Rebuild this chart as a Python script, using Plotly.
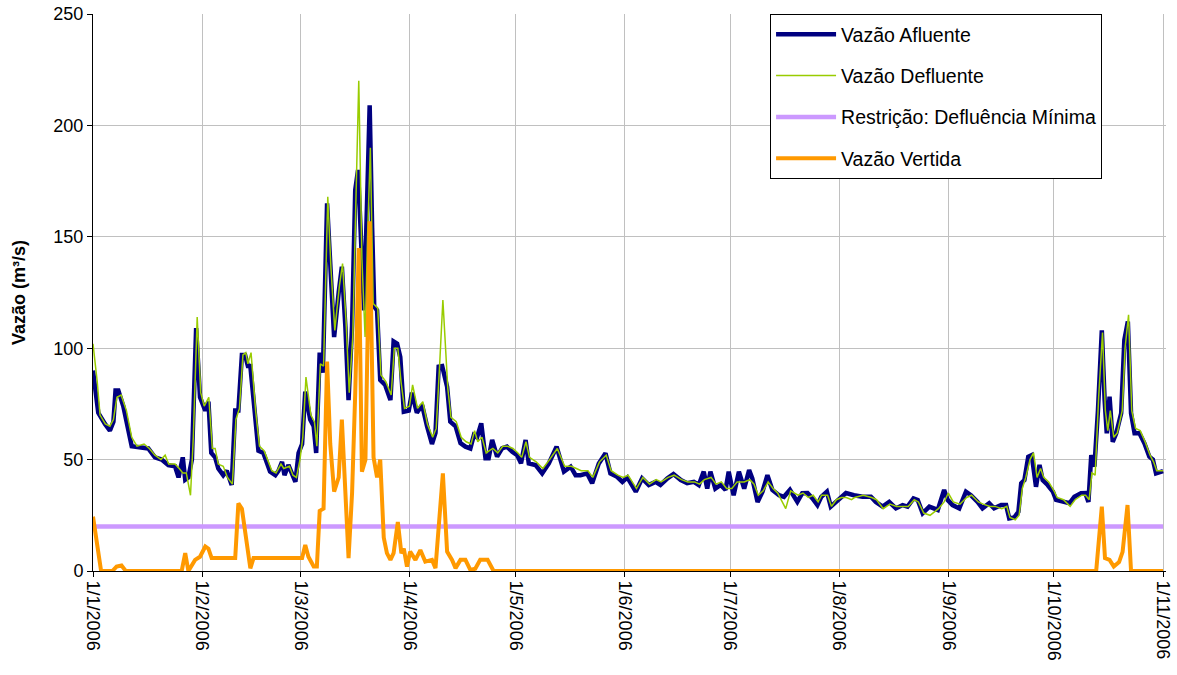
import pandas as pd
import plotly.graph_objects as go

BASE = "2006-01-01"

# ---- Vazão Afluente (day offset from 1/1/2006, m³/s)
afl_days = [0, 1.5, 3.4, 4.8, 5.8, 6.4, 7.2, 8.6, 11, 14.3, 15.7, 17.6, 19.5, 21.4, 23.3, 24.3, 25.5, 26.2,
            27.1, 28.1, 29.3, 30.4, 31.9, 32.8, 33.6, 34.7, 35.6, 37, 38, 39.4, 40.4, 41.3, 42.3, 43.2, 44,
            44.7, 46, 47, 48.4, 49.4, 50.3, 51.8, 52.7, 53.7, 54.4, 55.5, 56.5, 57.5, 58.4, 59.4, 60.3, 61.7,
            62.7, 63.4, 64.4, 65.3, 66.5, 67.4, 68.5, 69.8, 70.7, 71.7, 72.6, 73.6, 74.5, 75.3, 76.4, 77,
            77.8, 78.6, 79.3, 79.9, 80.7, 81.6, 83, 84.5, 85.4, 86.4, 87.3, 88.3, 89.7, 90.6, 92, 93.5, 94.9,
            96.3, 97.3, 98.2, 99.2, 100.6, 101.5, 103, 104.4, 105.8, 107.2, 108.2, 109.1, 110.3, 111.5, 112.4,
            113.4, 114.8, 116.2, 117.6, 119.1, 120.5, 121.6, 122.9, 123.8, 125.7, 127.6, 129.5, 131.7, 133.8,
            135.7, 137.1, 138.5, 140.4, 141.8, 143.7, 145.6, 147, 148.9, 150.4, 151.8, 154.2, 156, 157.9,
            159.8, 161.2, 163.2, 164.9, 167, 168.8, 170.7, 172.1, 173.5, 174.5, 175.4, 176.8, 178.3, 179.7,
            180.6, 182, 183.5, 185, 186.4, 187.3, 188.8, 190.2, 191.6, 193, 194.9, 196.3, 198, 200.1, 201.5,
            203, 204.4, 205.8, 206.9, 208.5, 209.6, 211, 212.4, 213.9, 216.2, 218.6, 221, 222.4, 224.3, 226.2,
            228.1, 230, 231.4, 233.1, 234.3, 235.7, 237.6, 240, 241.8, 242.8, 244.2, 246.1, 248, 249.4, 251.3,
            252.7, 254.6, 256, 258, 259.4, 260.3, 261.7, 262.9, 263.7, 264.6, 265.7, 266.7, 267.9, 268.9,
            269.8, 271.2, 272.7, 273.6, 275.5, 277.4, 278.8, 280.7, 281.9, 282.8, 283.6, 284.5, 285.5, 286.6,
            287.4, 288, 288.8, 289.7, 290.7, 292.1, 293, 294, 294.9, 295.9, 297.3, 298.7, 300.1, 301.1, 302,
            303.4, 304]
afl_vals = [90, 71, 66, 63, 67, 81, 81, 74, 56, 55, 55, 51, 50, 47.5, 47, 42, 51, 41,
            42, 50, 109, 78, 72, 76, 53, 51, 46, 43, 45, 38.6, 72, 72, 97, 97, 92,
            92, 69, 54, 53, 48, 44.6, 43, 45, 49, 43, 47.6, 44, 40, 53, 57, 80.5, 68,
            65, 53, 98, 89, 165, 134, 105, 125, 136.6, 109.6, 76.7, 110, 171, 180, 145, 117,
            162, 209, 154, 118.6, 117, 85.7, 83.5, 76.7, 103, 102, 96, 71.5, 72, 80, 71, 74.5, 65,
            57, 62, 91.7, 92, 82.7, 67, 65, 57.4, 55.8, 55, 61, 60, 66.3, 50.6, 50.6,
            58.8, 51.3, 55, 55.8, 53.5, 52, 48.3, 58.8, 48.3, 47.6, 43.8, 48.3, 55.8, 44.6,
            46.8, 43, 43, 43.8, 39.4, 48.3, 52.8, 43.8, 42.3, 40, 42, 35.6, 41.6, 38.6,
            40, 38.6, 41.6, 43.5, 40.8, 39.4, 40, 38.6, 44.6, 37, 44.6, 37, 38.6, 36.4,
            44.6, 34, 44.6, 37, 45.3, 41.6, 31, 35.6, 43, 36.4, 34, 33.3, 36.4, 31, 34.9,
            35, 32.6, 29.6, 33.3, 35.6, 28.9, 31, 33.3, 35, 34, 33.3, 33.3, 31, 28.9, 31,
            28.1, 29.6, 28.9, 32.6, 31.9, 25.9, 28.9, 27.4, 36.4, 31.9, 29.6, 28.1, 35.6, 34, 31,
            28.1, 30.4, 28.1, 29.6, 29.6, 23.6, 24, 26.6, 39.4, 40.8, 51.3, 52, 37.8, 47.6,
            40.8, 38.6, 35.6, 31.9, 31, 30.4, 33.3, 34.9, 35, 31, 52, 46.8, 72, 108,
            76.7, 61.8, 78.3, 58, 61.8, 70.8, 103.7, 112, 70.8, 61.8, 61.8, 57.3, 51.3, 50, 43.8,
            44.6, 44.8]

# ---- Vazão Defluente
def_days = [0, 1.2, 2, 3.5, 4.8, 5.8, 6.8, 8, 9.5, 11, 12.5, 14.5, 16, 17.6, 19.3, 20.5, 21.5, 23.3, 24.5,
            25.5, 26.5, 27.7, 28.5, 29.6, 30.6, 31.6, 32.9, 33.9, 34.7, 35.6, 37, 38.2, 39.6, 40.6, 41.6,
            42.6, 43.4, 44, 44.9, 46.2, 47.3, 48.6, 49.6, 50.8, 52, 53.4, 54.2, 55.8, 56.8, 57.8, 58.8, 59.6,
            60.5, 61.9, 62.9, 63.6, 64.6, 65.5, 66.7, 67.6, 68.7, 70, 70.9, 71.9, 72.8, 73.8, 74.6, 75.5,
            76.4, 77.3, 78, 78.8, 79.6, 80.9, 81.8, 83.2, 84.7, 85.6, 86.6, 87.5, 88.5, 89.9, 90.8, 92.2,
            93.7, 95, 96.5, 97.5, 98.4, 99.4, 100.8, 101.7, 103.2, 104.6, 106, 107.4, 108.4, 109.3, 110.5,
            111.7, 112.6, 113.6, 115, 116.4, 117.8, 119.3, 120.7, 121.8, 123, 124, 125.9, 127.8, 129.7,
            131.9, 134, 135.9, 137.3, 138.7, 140.6, 142, 143.9, 145.8, 147.2, 149.1, 150.6, 152, 154.4,
            156.2, 158.1, 160, 161.4, 163.4, 165.1, 167.2, 169, 170.9, 172.3, 173.7, 175.6, 177, 178.5, 180,
            181.5, 183, 185, 186.6, 187.8, 189, 190.4, 191.8, 193.2, 194.5, 196.8, 198.2, 200.3, 201.7,
            203.2, 204.6, 206, 207, 208.7, 209.8, 211.2, 212.6, 214, 215.5, 216.4, 218.8, 221.2, 222.6,
            224.5, 226.4, 228.3, 230.2, 231.6, 233.3, 234.5, 236, 237.8, 240.2, 241.8, 243, 244.4, 246.3,
            248.2, 249.6, 251.5, 252.9, 254.8, 256.2, 258.2, 259.6, 260.5, 262, 263.1, 264, 265, 266.2,
            267.2, 268.2, 269.2, 270.1, 271.5, 273, 273.9, 275.7, 277.6, 279, 280.9, 282, 283, 283.8, 284.7,
            285.7, 286.8, 287.6, 288.3, 289, 290, 291, 292.4, 293.2, 294.2, 295.1, 296.2, 297.5, 298.9,
            300.3, 301.3, 302.2, 303.6, 304]
def_vals = [102, 85, 70, 66, 65, 68, 78, 79, 72, 60, 56, 57, 55, 52, 50, 52, 48, 48, 46,
            44, 44, 34, 60, 114, 80, 74, 78, 55, 55, 48, 47, 42, 39, 68, 73,
            97, 98, 93, 98, 72, 56, 54, 50, 45, 44, 48, 46, 47, 43, 42, 50, 60,
            87, 70, 67, 56, 93, 92, 168, 136, 108, 128, 138, 112, 80, 105, 160, 220,
            140, 105, 150, 190, 120, 118, 88, 85, 79, 100, 100, 85, 73, 74, 83.5, 73,
            76, 66, 60, 64, 90, 121.6, 82, 69, 67, 60, 58, 57, 63, 58, 60,
            53, 54, 55, 53, 56, 56, 55, 53, 51, 58, 51, 49, 46, 50,
            55, 47, 47, 46, 45, 45, 42, 49, 52, 45, 43, 42, 43, 37,
            42, 39, 41, 40, 42, 43, 41, 40, 40, 39, 41, 42, 39, 40, 37,
            37, 40, 40, 41, 39, 34, 36, 40, 37, 35, 28, 36, 34, 35,
            33, 34, 31, 34, 34, 29, 32, 33, 33, 32, 33, 34, 33, 32,
            28, 30, 29, 29, 29, 32, 31, 26, 25, 28, 31, 35, 31, 30,
            33, 34, 31, 30, 29, 29, 28, 29, 24, 23, 25, 37, 42, 50,
            53, 42, 46, 42, 40, 36, 33, 32, 29, 32, 34, 34, 32, 44, 43,
            78, 107, 72, 63, 72, 60, 62, 72, 100, 115, 72, 64, 63, 58,
            52, 49, 45, 45, 45]

# ---- Restrição: Defluência Mínima
res_days = [0, 304]
res_vals = [20, 20]

# ---- Vazão Vertida
vert_days = [0, 1, 1.6, 2.3, 5.5, 6.7, 8.1, 9.3, 25.2, 26.2, 27.1, 29, 30.4, 31.9, 32.8, 33.7, 40.4, 41.3,
             42.3, 43.2, 44.7, 45.6, 59.4, 60.3, 61.2, 62.7, 63.6, 64.4, 65.5, 66.5, 67.4, 68.5, 69.8, 70.7,
             71.7, 72.6, 73.6, 74.5, 75.5, 76.4, 77.4, 78.6, 79.7, 80.7, 81.6, 82.6, 83.5, 84.5, 85.4, 86.6,
             87.6, 88.3, 89.2, 90.1, 91.6, 93, 94.4, 96.3, 97.3, 99.4, 100.6, 102, 103, 104.4, 105.8, 107.2,
             108.6, 110, 112.1, 113.8, 285, 286.6, 287.5, 288.8, 290, 291.5, 292.5, 293.9, 294.9, 304]
vert_vals = [24.4, 14, 5, 0, 0, 2, 2.5, 0, 0, 8, 0, 5, 6.4, 11, 10, 5.8, 5.8, 30.4,
             28, 18.4, 1.2, 5.8, 5.8, 11.7, 6.4, 2, 2, 27, 28, 94, 57, 35.6, 42, 68,
             35, 5.8, 35, 80, 145, 44.6, 50, 157, 51, 42, 50, 15, 8, 5, 8, 22,
             8, 10, 2, 8.7, 5, 9.4, 4.2, 5, 1.3, 43.8, 8.7, 5, 1.3, 5, 5, 0.5,
             1, 5, 5, 0, 0, 28.9, 5.8, 5, 2, 4, 8.6, 29.6, 0, 0]

x_ticks = ["2006-%02d-01" % m for m in range(1, 12)]
tick_text = ["1/%d/2006" % m for m in range(1, 12)]


def to_dates(days):
    return pd.Timestamp(BASE) + pd.to_timedelta(days, unit="D")


fig = go.Figure()
fig.add_trace(go.Scatter(x=to_dates(afl_days), y=afl_vals, mode="lines", name="Vazão Afluente",
                         line=dict(color="#000080", width=4.5), legendgroup="a"))
fig.add_trace(go.Scatter(x=to_dates(def_days), y=def_vals, mode="lines", name="Vazão Defluente",
                         line=dict(color="#99CC00", width=1.5), legendgroup="b"))
fig.add_trace(go.Scatter(x=to_dates(res_days), y=res_vals, mode="lines",
                         name="Restrição: Defluência Mínima",
                         line=dict(color="#CC99FF", width=4.5), legendgroup="c"))
fig.add_trace(go.Scatter(x=to_dates(vert_days), y=vert_vals, mode="lines", name="Vazão Vertida",
                         line=dict(color="#FF9900", width=4), legendgroup="d"))

font_family = "Liberation Sans, Arial, sans-serif"
fig.update_layout(
    width=1177, height=675,
    margin=dict(l=93, r=11, t=14, b=104, autoexpand=False),
    paper_bgcolor="white", plot_bgcolor="white",
    font=dict(family=font_family, size=18, color="black"),
    showlegend=True,
    legend=dict(x=0.631, y=1, xanchor="left", yanchor="top", bgcolor="white",
                bordercolor="black", borderwidth=1, font=dict(size=19.5),
                traceorder="grouped", tracegroupgap=13, itemwidth=60),
    xaxis=dict(type="date", range=["2006-01-01", "2006-11-01 20:00"], automargin=False,
               tickvals=x_ticks, ticktext=tick_text, tickangle=90,
               showgrid=True, gridcolor="#c0c0c0", gridwidth=1,
               showline=True, linecolor="black", linewidth=1,
               ticks="outside", ticklen=5, tickcolor="black",
               tickfont=dict(size=18), zeroline=False),
    yaxis=dict(range=[0, 250], dtick=50, showgrid=True, gridcolor="#c0c0c0", gridwidth=1,
               automargin=False,
               showline=True, linecolor="black", linewidth=1,
               ticks="outside", ticklen=5, tickcolor="black", zeroline=False,
               tickfont=dict(size=18),
               title=dict(text="<b>Vazão (m³/s)</b>", font=dict(size=18), standoff=23)),
)

fig.write_html("out.html", config={"displayModeBar": False},
               post_script="document.body.style.margin='0';document.body.style.overflow='hidden';")
